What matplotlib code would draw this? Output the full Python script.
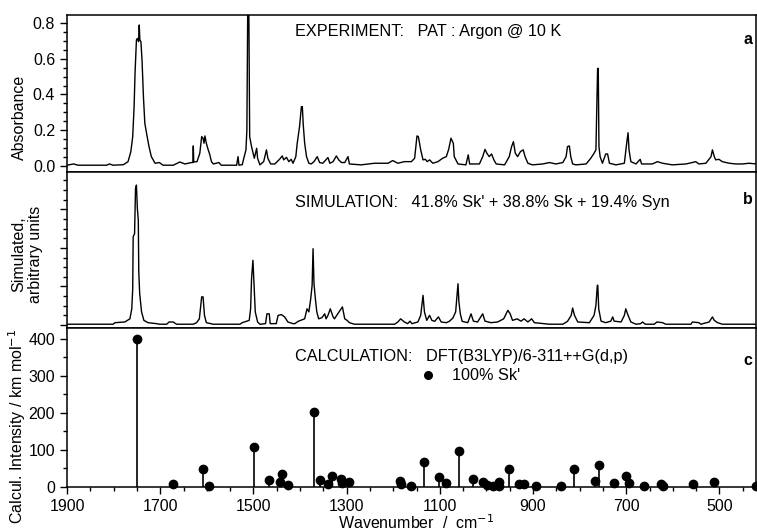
import numpy as np
import matplotlib
matplotlib.use("Agg")
import matplotlib.pyplot as plt
from matplotlib.ticker import MultipleLocator, NullFormatter

plt.rcParams['font.family'] = ['Liberation Sans', 'DejaVu Sans']

exp_wn = [1900, 1886, 1876, 1815, 1809, 1801, 1779, 1769, 1763, 1759, 1756, 1754,
          1751, 1749, 1746.4, 1745, 1743.6, 1741.4, 1739, 1736, 1733, 1728, 1724,
          1719, 1711, 1702, 1694, 1672, 1658, 1647, 1633, 1630, 1629, 1628, 1621,
          1615, 1611, 1608, 1606, 1604, 1601, 1597, 1594, 1590, 1586, 1574, 1569,
          1536, 1533, 1531, 1524, 1516, 1514, 1512, 1510, 1508, 1504, 1498, 1493,
          1491, 1486, 1478, 1472, 1469, 1463, 1454, 1444, 1438, 1435, 1429, 1424,
          1419, 1415, 1409, 1406, 1401, 1397, 1395, 1393, 1390, 1386, 1381, 1376,
          1370, 1363, 1358, 1351, 1340, 1336, 1329, 1322, 1317, 1311, 1304, 1297,
          1294, 1269, 1240, 1211, 1201, 1190, 1176, 1161, 1154, 1149, 1146, 1141,
          1136, 1131, 1127, 1122, 1115, 1104, 1094, 1086, 1081, 1076, 1071, 1069,
          1061, 1044, 1039, 1036, 1015, 1008, 1003, 999, 994, 989, 984, 979, 961,
          951, 946, 942, 938, 933, 927, 921, 917, 911, 901, 879, 865, 851, 836,
          829, 826, 822, 819, 815, 808, 786, 776, 769, 765, 763, 761.4, 760, 758.5,
          756, 751, 744, 740, 736, 722, 704, 699, 696, 694, 690, 679, 670, 667,
          644, 633, 622, 601, 572, 558, 551, 544, 529, 518, 515, 511, 508, 501,
          494, 486, 479, 465, 451, 436, 421]
exp_abs = [0.004, 0.011, 0.004, 0.004, 0.011, 0.004, 0.007, 0.024, 0.080, 0.164, 0.332, 0.518,
           0.705, 0.714, 0.696, 0.789, 0.705, 0.696, 0.593, 0.388, 0.239, 0.164, 0.108,
           0.052, 0.015, 0.019, 0.004, 0.004, 0.022, 0.011, 0.019, 0.019, 0.112, 0.022, 0.024,
           0.071, 0.164, 0.155, 0.127, 0.168, 0.127, 0.090, 0.067, 0.024, 0.011, 0.019, 0.004,
           0.004, 0.052, 0.004, 0.007, 0.090, 0.201, 0.95, 0.95, 0.164, 0.108, 0.043, 0.099,
           0.043, 0.006, 0.024, 0.090, 0.043, 0.011, 0.011, 0.037, 0.056, 0.034, 0.048, 0.024,
           0.037, 0.015, 0.052, 0.127, 0.220, 0.332, 0.332, 0.229, 0.127, 0.052, 0.015, 0.011,
           0.024, 0.052, 0.019, 0.015, 0.047, 0.015, 0.024, 0.056, 0.034, 0.019, 0.019, 0.052,
           0.011, 0.006, 0.015, 0.015, 0.030, 0.015, 0.024, 0.024, 0.043, 0.168, 0.164, 0.090,
           0.034, 0.037, 0.024, 0.034, 0.015, 0.024, 0.043, 0.052, 0.093, 0.155, 0.127, 0.052,
           0.011, 0.006, 0.062, 0.011, 0.011, 0.052, 0.093, 0.071, 0.052, 0.067, 0.034, 0.011, 0.006,
           0.052, 0.108, 0.136, 0.071, 0.052, 0.080, 0.090, 0.052, 0.015, 0.006, 0.011, 0.019, 0.011, 0.019,
           0.052, 0.108, 0.112, 0.052, 0.011, 0.006, 0.011, 0.043, 0.071, 0.090, 0.360, 0.546, 0.546, 0.108,
           0.052, 0.015, 0.067, 0.067, 0.015, 0.006, 0.015, 0.127, 0.186, 0.090, 0.024, 0.011, 0.037, 0.011,
           0.011, 0.024, 0.015, 0.006, 0.011, 0.019, 0.024, 0.011, 0.015, 0.052, 0.090, 0.052, 0.034, 0.037,
           0.024, 0.019, 0.015, 0.011, 0.011, 0.015, 0.011]

# panel b: simulated spectrum (arbitrary units)
sim_wn = [1900, 1801, 1797, 1776, 1765, 1761, 1759, 1758, 1755, 1753, 1751, 1749, 1747,
          1746, 1744, 1740, 1735, 1726, 1708, 1701, 1686, 1681, 1672, 1665, 1629,
          1622, 1616, 1611, 1608, 1605, 1601, 1586, 1529, 1524, 1509, 1506, 1504,
          1501, 1499, 1496, 1491, 1486, 1474, 1471, 1466, 1464, 1451, 1447, 1440,
          1433, 1426, 1415, 1411, 1404, 1390, 1385, 1381, 1377, 1374, 1372, 1370,
          1367, 1364, 1360, 1353, 1347, 1344, 1340, 1335, 1329, 1326, 1319, 1309,
          1304, 1299, 1294, 1283, 1197, 1190, 1184, 1176, 1169, 1164, 1160, 1147,
          1141, 1136, 1133, 1128, 1122, 1117, 1111, 1103, 1097, 1086, 1079, 1072,
          1066, 1061, 1059, 1056, 1052, 1040, 1033, 1028, 1019, 1008, 1003, 990,
          976, 963, 954, 949, 944, 934, 926, 919, 911, 903, 897, 865, 836, 826,
          818, 815, 811, 804, 779, 769, 765, 762, 761, 759, 754, 744, 733, 729,
          726, 711, 704, 701, 696, 690, 679, 669, 665, 659, 640, 634, 622, 615,
          561, 558, 544, 540, 522, 515, 511, 504, 497, 494, 421]
sim_int = [0.02, 0.02, 0.06, 0.078, 0.16, 0.42, 0.94, 2.29, 2.37, 3.54, 3.63, 3.02, 2.72,
           1.38, 0.81, 0.34, 0.12, 0.06, 0.035, 0.02, 0.02, 0.078, 0.078, 0.02, 0.02,
           0.06, 0.16, 0.73, 0.73, 0.25, 0.06, 0.02, 0.02, 0.06, 0.12, 0.42, 1.2,
           1.68, 1.12, 0.34, 0.078, 0.02, 0.035, 0.29, 0.29, 0.035, 0.035, 0.25, 0.27,
           0.21, 0.078, 0.035, 0.035, 0.095, 0.16, 0.42, 0.34, 0.68, 1.03, 1.98, 1.07,
           0.68, 0.34, 0.16, 0.19, 0.29, 0.16, 0.25, 0.42, 0.21, 0.16, 0.29, 0.47,
           0.16, 0.12, 0.06, 0.02, 0.02, 0.078, 0.16, 0.078, 0.035, 0.10, 0.035, 0.078,
           0.25, 0.77, 0.34, 0.12, 0.25, 0.12, 0.095, 0.21, 0.078, 0.06, 0.10, 0.18,
           0.34, 1.07, 0.60, 0.29, 0.095, 0.06, 0.29, 0.10, 0.078, 0.29, 0.10, 0.06,
           0.078, 0.16, 0.38, 0.29, 0.12, 0.16, 0.10, 0.16, 0.078, 0.16, 0.06, 0.02, 0.02, 0.095,
           0.25, 0.44, 0.25, 0.078, 0.06, 0.25, 0.51, 1.03, 1.03, 0.42, 0.10, 0.06, 0.10, 0.21,
           0.10, 0.078, 0.25, 0.42, 0.25, 0.078, 0.02, 0.035, 0.078, 0.02, 0.02, 0.078, 0.06, 0.02,
           0.02, 0.078, 0.06, 0.02, 0.078, 0.21, 0.12, 0.06, 0.035, 0.02, 0.02]

# panel c: calculated frequencies and intensities (km/mol), 100% Sk'
calc_wn = [1749, 1673, 1608, 1596, 1499, 1467, 1442, 1438, 1426, 1370, 1358, 1341,
           1331, 1311, 1309, 1294, 1185, 1183, 1161, 1134, 1102, 1086, 1059, 1029,
           1008, 998, 986, 974, 972, 951, 931, 919, 893, 840, 813, 766, 759, 726,
           701, 694, 661, 626, 620, 556, 511, 422]
calc_int = [400, 7, 48, 3, 108, 19, 14, 34, 5, 201, 19, 8,
            30, 22, 12, 14, 16, 7, 3, 68, 26, 12, 97, 21,
            14, 5, 3, 14, 3, 48, 7, 7, 3, 3, 48, 17, 60, 12,
            31, 12, 3, 7, 3, 7, 14, 3]

fig = plt.figure(figsize=(7.57, 5.30), dpi=100)
left, width = 67 / 757, 689 / 757
ax_a = fig.add_axes([left, 1 - 172 / 530, width, 157 / 530])
ax_b = fig.add_axes([left, 1 - 327.5 / 530, width, 155.5 / 530])
ax_c = fig.add_axes([left, 1 - 487 / 530, width, 159.5 / 530])

for ax in (ax_a, ax_b, ax_c):
    ax.set_xlim(1900, 421.5)
    ax.xaxis.set_major_locator(MultipleLocator(200))
    ax.xaxis.set_minor_locator(MultipleLocator(50))
    ax.tick_params(which='both', direction='out', top=False, right=False,
                   labelsize=11.5, width=1.0)
    ax.tick_params(which='major', length=5)
    ax.tick_params(which='minor', length=3)
    for sp in ax.spines.values():
        sp.set_linewidth(1.1)

ax_a.set_xticks([1900, 1700, 1500, 1300, 1100, 900, 700, 500])
ax_b.set_xticks([1900, 1700, 1500, 1300, 1100, 900, 700, 500])
ax_c.set_xticks([1900, 1700, 1500, 1300, 1100, 900, 700, 500])
ax_a.xaxis.set_major_formatter(NullFormatter())
ax_b.xaxis.set_major_formatter(NullFormatter())

# a
ax_a.plot(exp_wn, exp_abs, color='black', lw=1.0)
ax_a.set_ylim(-0.034, 0.845)
ax_a.yaxis.set_major_locator(MultipleLocator(0.2))
ax_a.yaxis.set_minor_locator(MultipleLocator(0.05))
ax_a.yaxis.set_major_formatter(plt.FuncFormatter(lambda v, p: f"{v:.1f}"))
ax_a.set_ylabel("Absorbance", fontsize=11.5)
ax_a.yaxis.set_label_coords(-0.058, 0.35)
ax_a.text(0.331, 0.895, "EXPERIMENT:   PAT : Argon @ 10 K", transform=ax_a.transAxes,
          fontsize=11.7, va='center')
ax_a.text(0.995, 0.847, "a", transform=ax_a.transAxes, fontsize=11.5,
          fontweight='bold', va='center', ha='right')

# b
ax_b.plot(sim_wn, sim_int, color='black', lw=1.0)
ax_b.set_ylim(-0.065, 3.97)
ax_b.yaxis.set_major_locator(MultipleLocator(1))
ax_b.yaxis.set_minor_locator(MultipleLocator(0.25))
ax_b.yaxis.set_major_formatter(NullFormatter())
ax_b.set_ylabel("Simulated,\narbitrary units", fontsize=11.5, linespacing=1.1)
ax_b.yaxis.set_label_coords(-0.035, 0.47)
ax_b.text(0.331, 0.807, "SIMULATION:   41.8% Sk' + 38.8% Sk + 19.4% Syn",
          transform=ax_b.transAxes, fontsize=11.7, va='center')
ax_b.text(0.995, 0.826, "b", transform=ax_b.transAxes, fontsize=11.5,
          fontweight='bold', va='center', ha='right')

# c
ax_c.vlines(calc_wn, 0, calc_int, color='black', lw=1.2)
ax_c.plot(calc_wn, calc_int, 'o', color='black', ms=6, clip_on=False, zorder=3)
ax_c.set_ylim(0, 430)
ax_c.yaxis.set_major_locator(MultipleLocator(100))
ax_c.yaxis.set_minor_locator(MultipleLocator(50))
ax_c.set_ylabel("Calcul. Intensity / km mol$^{-1}$", fontsize=11.5)
ax_c.yaxis.set_label_coords(-0.057, 0.38)
ax_c.set_xlabel("Wavenumber  /  cm$^{-1}$", fontsize=11.5)
ax_c.xaxis.set_label_coords(0.506, -0.162)
ax_c.text(0.331, 0.82, "CALCULATION:   DFT(B3LYP)/6-311++G(d,p)",
          transform=ax_c.transAxes, fontsize=11.7, va='center')
ax_c.plot([0.524], [0.70], 'o', color='black', ms=5.5, transform=ax_c.transAxes)
ax_c.text(0.559, 0.70, "100% Sk'", transform=ax_c.transAxes, fontsize=11.7, va='center')
ax_c.text(0.995, 0.796, "c", transform=ax_c.transAxes, fontsize=11.5,
          fontweight='bold', va='center', ha='right')

fig.savefig("out.png", dpi=100)
